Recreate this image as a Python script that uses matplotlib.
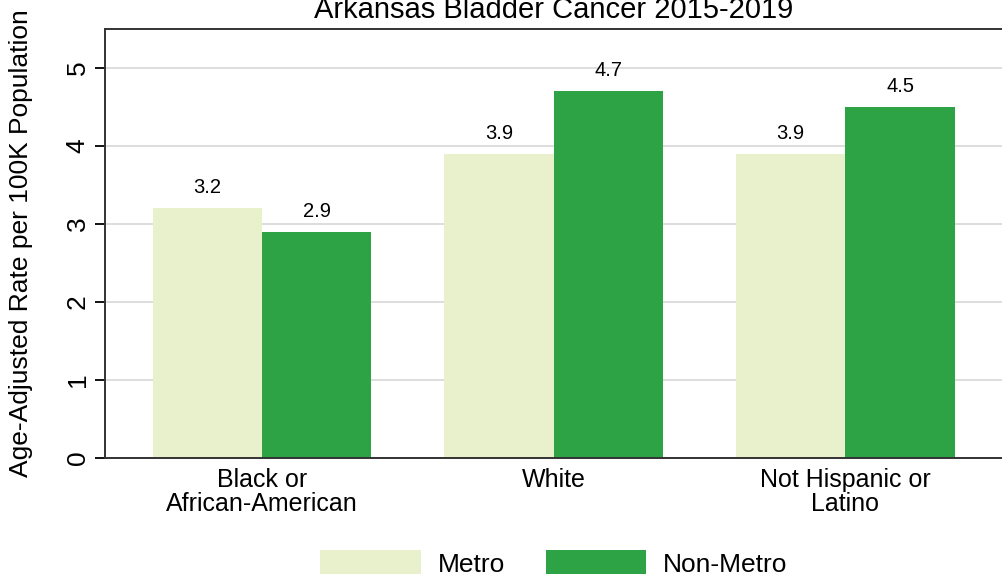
from matplotlib import pyplot as plt
import numpy as np

# data
groups = ['Black or\nAfrican-American', 'White', 'Not Hispanic or\nLatino']
metro = [3.2, 3.9, 3.9]
non_metro = [2.9, 4.7, 4.5]
series_names = ['Metro', 'Non-Metro']

plt.rcParams['font.family'] = ['Liberation Sans', 'DejaVu Sans']

fig = plt.figure(figsize=(10.02, 5.74), dpi=100)
ax = fig.add_axes([0.1048, 0.2021, 0.8962, 0.7474])

x = np.arange(len(groups))
w = 0.375
b1 = ax.bar(x - w / 2, metro, width=w, color='#e8f0cc', label=series_names[0], zorder=2)
b2 = ax.bar(x + w / 2, non_metro, width=w, color='#2ea345', label=series_names[1], zorder=2)

for bars, vals in ((b1, metro), (b2, non_metro)):
    for rect, v in zip(bars, vals):
        ax.annotate("{:.1f}".format(v),
                    (rect.get_x() + rect.get_width() / 2, v),
                    textcoords="offset points", xytext=(0, 8),
                    ha='center', va='bottom', fontsize=14.5)

ax.set_xlim(-0.538, 2.54)
ax.set_ylim(0, 5.5)
ax.set_yticks([0, 1, 2, 3, 4, 5])
ax.set_xticks(x)
ax.set_xticklabels(groups, fontsize=18, linespacing=1.0)
ax.tick_params(axis='x', length=0, pad=7)
ax.tick_params(axis='y', length=7, width=1.3, labelsize=19, pad=4)
for lbl in ax.get_yticklabels():
    lbl.set_rotation(90)
    lbl.set_va('center')

ax.yaxis.grid(True, color='#dddddd', linewidth=1.4, zorder=0)
ax.set_axisbelow(True)
for side in ('left', 'bottom', 'top'):
    ax.spines[side].set_color('#333333')
    ax.spines[side].set_linewidth(1.4)
ax.spines['right'].set_visible(False)

ax.set_ylabel('Age-Adjusted Rate per 100K Population', fontsize=19)
ax.yaxis.set_label_coords(-0.08, 0.5)
ax.set_title('Arkansas Bladder Cancer 2015-2019', fontsize=21, pad=8)

ax.legend(loc='upper center', bbox_to_anchor=(0.5, -0.16), ncol=2, frameon=False,
          fontsize=19, handlelength=3.8, handleheight=1.15, handletextpad=0.65,
          columnspacing=1.55)

fig.savefig('out.png', dpi=100)
